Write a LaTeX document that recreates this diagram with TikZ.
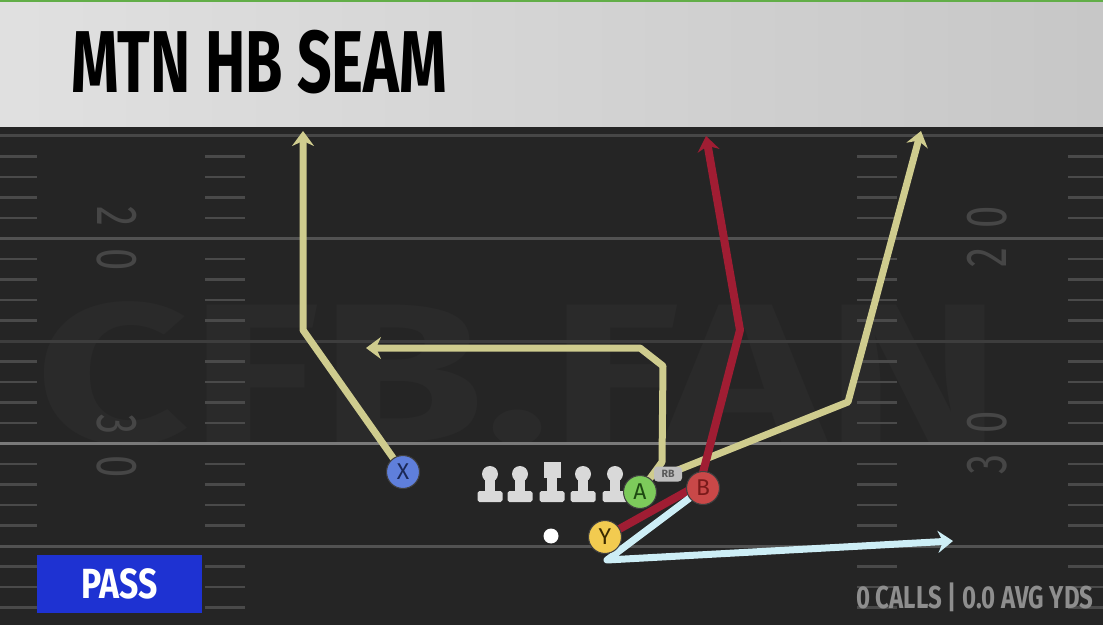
\documentclass[tikz,border=0pt]{standalone}
\usepackage{fontspec}
\setmainfont{Fira Sans}
\newfontfamily\condfont[FakeStretch=0.69]{Fira Sans}
\newfontfamily\statfont[FakeStretch=0.76]{Fira Sans}
\newfontfamily\passfont[FakeStretch=0.8]{Fira Sans}
\newfontfamily\wmfont[FakeStretch=1.35]{Fira Sans}
\usetikzlibrary{positioning,arrows.meta}
\definecolor{bargreen}{HTML}{62AE48}
\definecolor{fieldgray}{HTML}{252525}
\definecolor{wmgray}{HTML}{2A2A2A}
\definecolor{hashgray}{HTML}{4A4A4A}
\definecolor{numgray}{HTML}{464646}
\definecolor{routetan}{HTML}{CFCC8E}
\definecolor{routered}{HTML}{A01D33}
\definecolor{routeblue}{HTML}{CDEEF6}
\definecolor{linegray}{HTML}{D9D9D9}
\definecolor{xblue}{HTML}{5F7FDB}
\definecolor{xtext}{HTML}{1B2856}
\definecolor{agreen}{HTML}{7DCB5B}
\definecolor{atext}{HTML}{1E4A12}
\definecolor{bred}{HTML}{C94848}
\definecolor{btext}{HTML}{7A1A1A}
\definecolor{yyellow}{HTML}{F2CB50}
\definecolor{ytext}{HTML}{3A2A00}
\definecolor{passblue}{HTML}{1E32D2}
\definecolor{statgray}{HTML}{8E8E8E}
\newcommand{\lineman}[2]{%
    \fill[linegray] (#1,474) circle (0.16cm);
    \fill[linegray] (#1-5,476) rectangle (#1+5,494);
    \fill[linegray,rounded corners=1pt] (#1-12.5,491) rectangle (#1+12.5,502);
    \coordinate (#2) at (#1,487);
}

\begin{document}
\begin{tikzpicture}[x=0.02cm,y=-0.02cm,
    route/.style={line width=0.14cm,line join=round,line cap=round},
    tip/.style={-{Stealth[length=0.3cm,width=0.44cm,inset=0.1cm]}},
    player/.style={circle,draw=black!75,line width=0.6pt,minimum size=0.66cm,inner sep=0pt,font=\fontsize{13}{13}\selectfont},
    hash/.style={draw=hashgray,line width=0.05cm},
    yardnum/.style={text=numgray,font=\condfont\fontsize{33}{33}\selectfont,inner sep=0pt}]
    \useasboundingbox (0,0) rectangle (1103,625);
    %field
    \fill[fieldgray] (0,127) rectangle (1103,625);
    \node[text=wmgray,font=\wmfont\bfseries\fontsize{113}{113}\selectfont,anchor=base west,inner sep=0pt] (mark) at (35,442) {CFB.FAN};
    \draw[draw=black!72,line width=0.06cm] (0,136) -- (1103,136);
    \draw[draw=black!68,line width=0.06cm] (0,238.5) -- (1103,238.5);
    \draw[draw=black!76,line width=0.06cm] (0,341) -- (1103,341);
    \draw[draw=black!52,line width=0.06cm] (0,443.5) -- (1103,443.5);
    \draw[draw=black!68,line width=0.06cm] (0,546) -- (1103,546);
    \foreach \k in {1,2,3,4,6,7,8,9,11,12,13,14,16,17,18,19,21,22,23}
        \foreach \xa/\xb in {0/37,205/245,857/897,1068/1103}
            \draw[hash] (\xa,136+20.5*\k) -- (\xb,136+20.5*\k);
    %numbers
    \node[yardnum,rotate=-90] (l20a) at (117,216) {2};
    \node[yardnum,rotate=-90] (l20b) at (117,260) {0};
    \node[yardnum,rotate=-90] (l30a) at (117,424) {3};
    \node[yardnum,rotate=-90] (l30b) at (117,467) {0};
    \node[yardnum,rotate=90] (r20a) at (987,217) {0};
    \node[yardnum,rotate=90] (r20b) at (987,258) {2};
    \node[yardnum,rotate=90] (r30a) at (987,422) {0};
    \node[yardnum,rotate=90] (r30b) at (987,465) {3};
    %positions
    \coordinate (posX) at (403,472);
    \coordinate (posA) at (640,492);
    \coordinate (posB) at (703,488);
    \coordinate (posY) at (605,537);
    \coordinate (posRB) at (668,474);
    \coordinate (tipX) at (303,131);
    \coordinate (tipA) at (366,348);
    \coordinate (tipRB) at (921,131);
    \coordinate (tipB) at (706,136);
    \coordinate (tipY) at (953,541);
    %routes
    \draw[route,routetan,tip] (posX) -- (303,330) -- (tipX);
    \draw[route,routetan,tip] (posA) -- (662,462) -- (663,366) -- (640,348) -- (tipA);
    \draw[route,routetan,tip] (posRB) -- (848,402) -- (tipRB);
    \draw[route,routered,line width=0.16cm,tip] (posY) -- (700,484) -- (740,330) -- (tipB);
    \draw[route,routeblue,tip] (posB) -- (607,560) -- (tipY);
    %line
    \lineman{490}{LT}
    \lineman{520}{LG}
    \fill[linegray] (543.5,462) rectangle (560.5,478);
    \fill[linegray] (547,476) rectangle (557,494);
    \fill[linegray,rounded corners=1pt] (539.5,491) rectangle (564.5,502);
    \coordinate (C) at (552,487);
    \lineman{583}{RG}
    \lineman{615}{RT}
    \fill[white] (551,536) circle (0.15cm);
    \coordinate (QB) at (551,536);
    %players
    \node[player,fill=xblue,text=xtext] (X) at (posX) {X};
    \node[rectangle,rounded corners=2pt,fill=black!25,text=black!65,minimum width=0.56cm,minimum height=0.3cm,inner sep=0pt,font=\bfseries\fontsize{6}{6}\selectfont] (RB) at (posRB) {RB};
    \node[player,fill=agreen,text=atext] (A) at (posA) {A};
    \node[player,fill=bred,text=btext] (B) at (posB) {B};
    \node[player,fill=yyellow,text=ytext] (Y) at (posY) {Y};
    %bottom
    \node[fill=passblue,minimum width=3.3cm,minimum height=1.16cm,inner sep=0pt,text=white,font=\passfont\bfseries\fontsize{24}{24}\selectfont] (pass) at (119.5,584) {PASS};
    \node[anchor=base east,inner sep=0pt,text=statgray,font=\statfont\bfseries\fontsize{18}{18}\selectfont] (stats) at (1094,608) {0 CALLS | 0.0 AVG YDS};
    %title
    \fill[bargreen] (0,0) rectangle (1103,3);
    \shade[left color=black!12,right color=black!22] (0,3) rectangle (1103,127);
    \node[anchor=base west,inner sep=0pt,font=\condfont\bfseries\fontsize{50}{50}\selectfont] (title) at (71,93) {MTN HB SEAM};
\end{tikzpicture}
\end{document}
